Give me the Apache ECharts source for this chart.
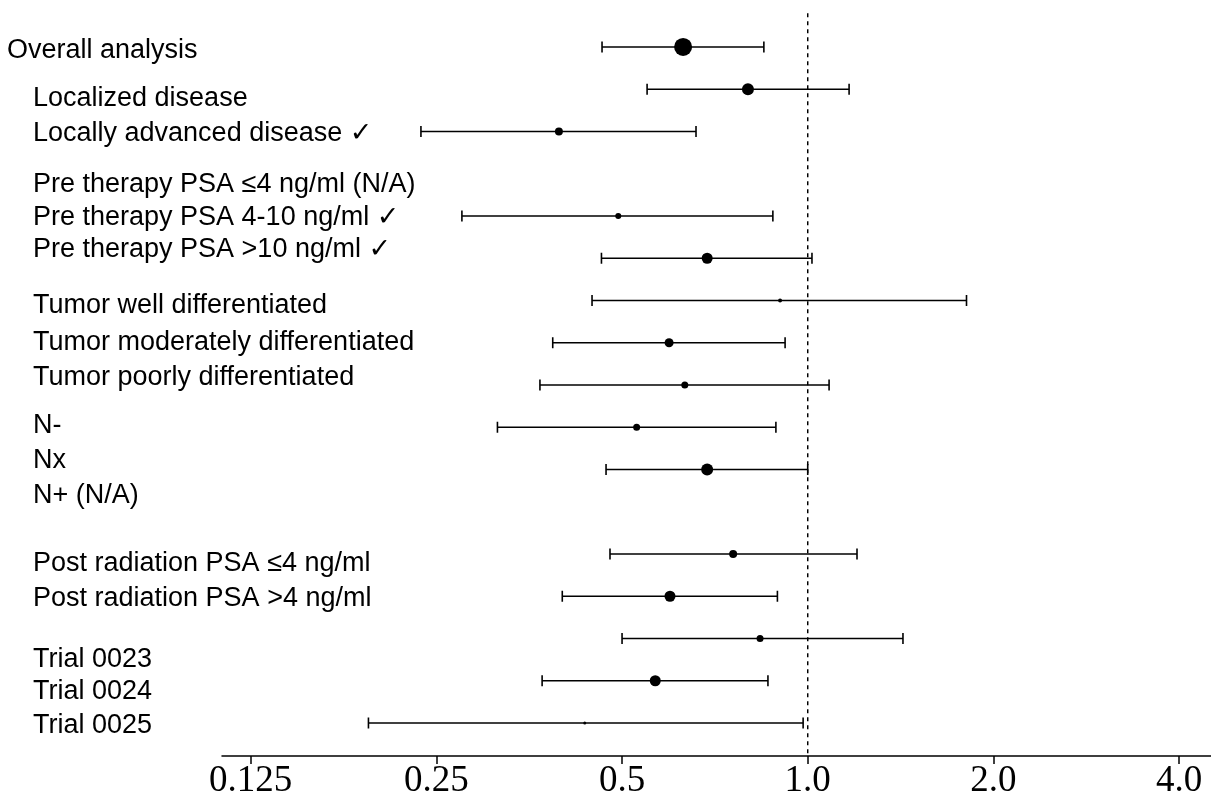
<!DOCTYPE html>
<html>
<head>
<meta charset="utf-8">
<script src="https://cdn.jsdelivr.net/npm/echarts@6/dist/echarts.min.js"></script>
<style>html,body{margin:0;padding:0;background:#fff}#main{width:1211px;height:803px}</style>
</head>
<body>
<div id="main"></div>
<script>
// ---- data ----
const categories = [
  'Overall analysis',
  'Localized disease',
  'Locally advanced disease \u2713',
  'Pre therapy PSA \u22644 ng/ml (N/A)',
  'Pre therapy PSA 4-10 ng/ml \u2713',
  'Pre therapy PSA >10 ng/ml \u2713',
  'Tumor well differentiated',
  'Tumor moderately differentiated',
  'Tumor poorly differentiated',
  'N-',
  'Nx',
  'N+ (N/A)',
  'Post radiation PSA \u22644 ng/ml',
  'Post radiation PSA >4 ng/ml',
  'Trial 0023',
  'Trial 0024',
  'Trial 0025'
];
const estimate = [0.628, 0.800, 0.395, null, 0.493, 0.687, 0.902, 0.596, 0.632, 0.528, 0.687, null, 0.757, 0.598, 0.837, 0.566, 0.435];
const ciLow    = [0.464, 0.549, 0.236, null, 0.275, 0.463, 0.447, 0.386, 0.368, 0.314, 0.471, null, 0.478, 0.400, 0.500, 0.371, 0.194];
const ciHigh   = [0.849, 1.167, 0.659, null, 0.878, 1.016, 1.809, 0.919, 1.083, 0.888, 1.000, null, 1.202, 0.893, 1.427, 0.862, 0.983];
const weight   = [18, 12, 8, null, 6, 11, 4, 9, 7, 7, 12, null, 8, 11, 7, 11, 3];
const tickValues = [0.125, 0.25, 0.5, 1, 2, 4];
const tickLabels = ['0.125', '0.25', '0.5', '1.0', '2.0', '4.0'];
const refValue = 1.0;

// ---- layout (row positions of the text labels) ----
const labelRow = [0.047, 1.183, 2.012, 3.219, 4.0, 4.757, 6.083, 6.959, 7.787, 8.923, 9.751, 10.58, 12.189, 13.018, 14.462, 15.219, 16.024];
const labelIndent = [7, 33, 33, 33, 33, 33, 33, 33, 33, 33, 33, 33, 33, 33, 33, 33, 33];

const L = v => Math.log2(v);
const barData = [], pointData = [];
categories.forEach((c, i) => {
  if (estimate[i] == null) return;
  barData.push([L(ciLow[i]), L(ciHigh[i]), i]);
  pointData.push([L(estimate[i]), i, weight[i]]);
});

const chart = echarts.init(document.getElementById('main'), null, {renderer: 'canvas'});
const Y_MIN = -1.112, Y_MAX = 16.781;
chart.setOption({
  animation: false,
  backgroundColor: '#fff',
  grid: {left: 222, right: 0, top: 0, bottom: 47, containLabel: false},
  xAxis: {
    type: 'value',
    min: L(0.125) - 0.1546,
    max: L(4) + 0.172,
    splitLine: {show: false},
    axisLine: {show: true, onZero: false, lineStyle: {color: '#000', width: 1.5}},
    axisTick: {show: true, customValues: tickValues.map(L), length: 8, lineStyle: {color: '#000', width: 1.5}},
    axisLabel: {
      show: true,
      customValues: tickValues.map(L),
      formatter: v => { const k = tickValues.findIndex(t => Math.abs(L(t) - v) < 1e-6); return k >= 0 ? tickLabels[k] : ''; },
      fontFamily: 'Liberation Serif', fontSize: 37, color: '#000', margin: 7
    }
  },
  yAxis: {type: 'value', min: Y_MIN, max: Y_MAX, inverse: true, show: false},
  series: [
    {
      type: 'line',
      data: [[L(refValue), -0.80], [L(refValue), Y_MAX]],
      symbol: 'none',
      lineStyle: {color: '#000', width: 1.5, type: [4, 4]},
      silent: true,
      z: 1
    },
    {
      type: 'custom',
      data: barData,
      encode: {x: [0, 1], y: 2},
      renderItem: (params, api) => {
        const a = api.coord([api.value(0), api.value(2)]);
        const b = api.coord([api.value(1), api.value(2)]);
        const h = 5.5;
        const st = {stroke: '#000', lineWidth: 1.6};
        return {
          type: 'group',
          children: [
            {type: 'line', shape: {x1: a[0], y1: a[1], x2: b[0], y2: b[1]}, style: st},
            {type: 'line', shape: {x1: a[0], y1: a[1] - h, x2: a[0], y2: a[1] + h}, style: st},
            {type: 'line', shape: {x1: b[0], y1: b[1] - h, x2: b[0], y2: b[1] + h}, style: st}
          ]
        };
      },
      z: 2
    },
    {
      type: 'scatter',
      data: pointData,
      symbol: 'circle',
      symbolSize: v => v[2],
      itemStyle: {color: '#000', opacity: 1},
      z: 3
    }
  ]
});

const graphics = categories.map((c, i) => ({
  type: 'text',
  left: labelIndent[i],
  top: chart.convertToPixel({yAxisIndex: 0}, labelRow[i]) - 11.5,
  style: {text: c, fontFamily: 'Liberation Sans, DejaVu Sans, sans-serif', fontSize: 27, fill: '#000'}
}));
chart.setOption({graphic: graphics});
</script>
</body>
</html>
